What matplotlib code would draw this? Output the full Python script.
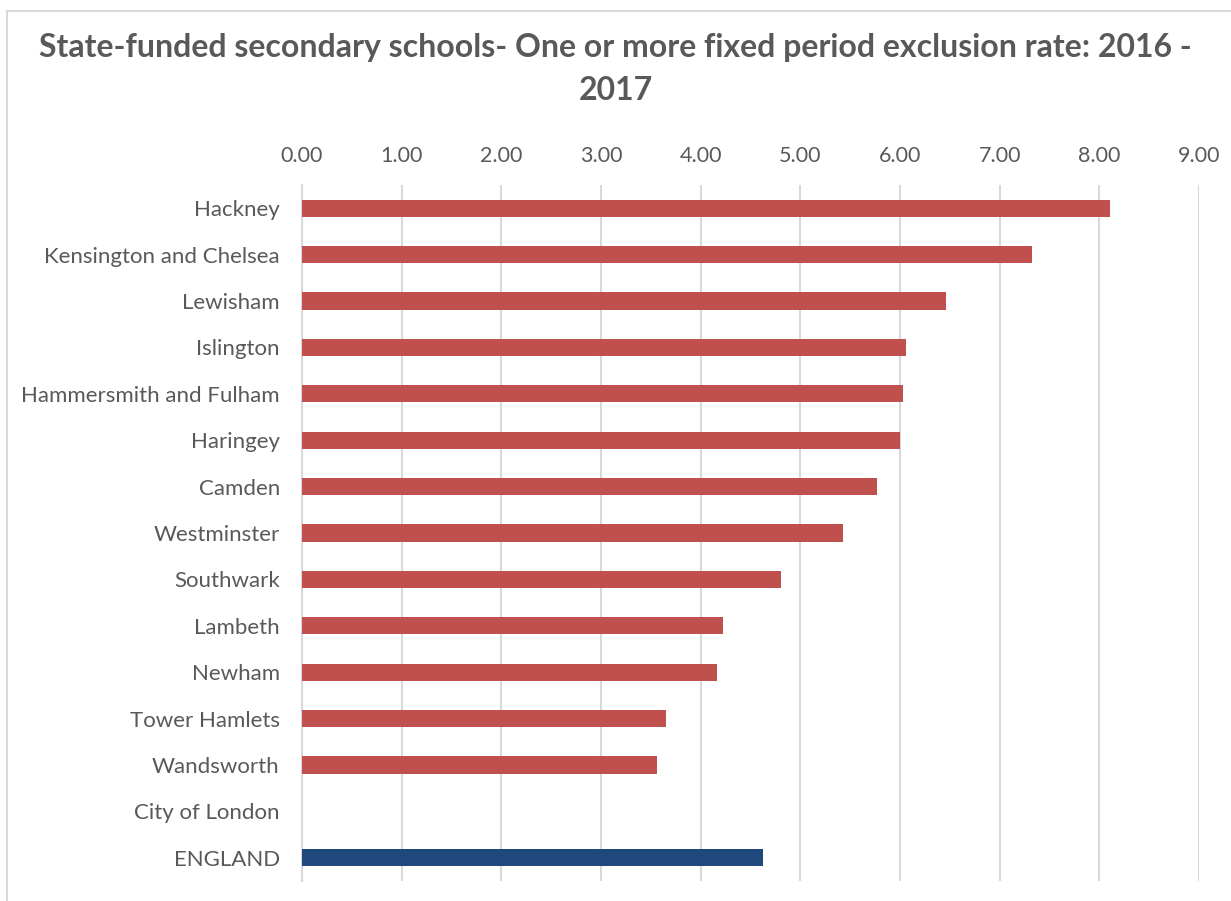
import matplotlib.pyplot as plt
from matplotlib.lines import Line2D

# exclusion rates (top to bottom)
boroughs = ["Hackney", "Kensington and Chelsea", "Lewisham", "Islington",
            "Hammersmith and Fulham", "Haringey", "Camden", "Westminster",
            "Southwark", "Lambeth", "Newham", "Tower Hamlets", "Wandsworth",
            "City of London", "ENGLAND"]
rates = [8.11, 7.32, 6.46, 6.06, 6.03, 6.00, 5.77, 5.43,
         4.81, 4.22, 4.16, 3.65, 3.56, 0.0, 4.63]
ticks = [0, 1, 2, 3, 4, 5, 6, 7, 8, 9]

red = "#C0504D"
blue = "#1F497D"
grey_txt = "#595959"

plt.rcParams['font.family'] = ['Lato', 'DejaVu Sans']

fig = plt.figure(figsize=(12.31, 9.01), dpi=100)
ax = fig.add_axes([302/1231, 1 - 881/901, (1199 - 302)/1231, (881 - 185)/901])

ypos = list(range(len(boroughs)))
colors = [blue if b == "ENGLAND" else red for b in boroughs]
ax.barh(ypos, rates, height=0.37, color=colors, zorder=3)

ax.set_xlim(0, 9)
ax.set_ylim(len(boroughs) - 0.5, -0.5)
ax.set_xticks(ticks)
ax.set_xticklabels(["%.2f" % t for t in ticks])
ax.xaxis.tick_top()
ax.set_yticks(ypos)
ax.set_yticklabels(boroughs)
ax.tick_params(axis='both', length=0, colors=grey_txt)
ax.tick_params(axis='x', pad=14, labelsize=15.5)
ax.tick_params(axis='y', pad=16, labelsize=16)

ax.grid(axis='x', color="#D9D9D9", linewidth=1.5, zorder=0)
for s in ["top", "right", "bottom"]:
    ax.spines[s].set_visible(False)
ax.spines["left"].set_color("#D9D9D9")
ax.spines["left"].set_linewidth(1.5)

fig.text(0.5, 1 - 48/901,
         "State-funded secondary schools- One or more fixed period exclusion rate: 2016 -",
         ha='center', va='center', fontsize=23, fontweight='bold', color=grey_txt)
fig.text(0.5, 1 - 90/901, "2017",
         ha='center', va='center', fontsize=23, fontweight='bold', color=grey_txt)

# light border of the chart area (top and left edges visible)
fig.add_artist(Line2D([7/1231, 7/1231], [0, 1 - 11/901], color="#D9D9D9",
                      linewidth=1.5, transform=fig.transFigure))
fig.add_artist(Line2D([7/1231, 1], [1 - 11/901, 1 - 11/901], color="#D9D9D9",
                      linewidth=1.5, transform=fig.transFigure))

plt.savefig("out.png", dpi=100)
